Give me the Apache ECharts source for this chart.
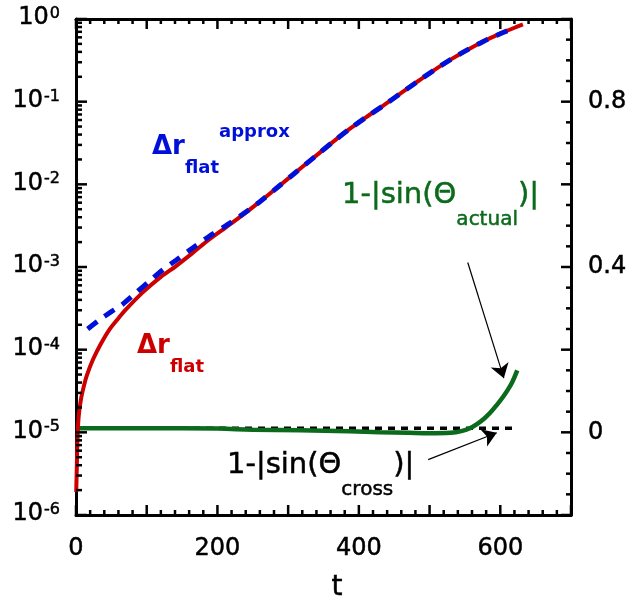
<!DOCTYPE html>
<html><head><meta charset="utf-8">
<script src="https://cdn.jsdelivr.net/npm/echarts@6/dist/echarts.min.js"></script>
<style>html,body{margin:0;padding:0;background:#fff}#c{width:631px;height:608px}</style>
</head><body><div id="c"></div>
<script>
// ---- data ----
const tRed = [0.3,1.2,2,3,4.5,7,10,15,24,35,47,60,71,94,120,141,165,188,212,236,260,283,310,340,363,387,410,435,458,482,505,529,552,576,600,623,632];
const drFlat = [1.9e-6,4.0e-6,7.9e-6,1.26e-5,1.78e-5,2.51e-5,3.31e-5,4.79e-5,7.59e-5,1.17e-4,1.74e-4,2.40e-4,3.09e-4,4.90e-4,7.59e-4,1.02e-3,1.48e-3,2.14e-3,3.02e-3,4.27e-3,6.17e-3,8.91e-3,1.38e-2,2.24e-2,3.24e-2,4.68e-2,6.46e-2,9.02e-2,0.124,0.173,0.236,0.320,0.417,0.535,0.664,0.803,0.861];
const tBlue = [16.5,33,50,66,85,104,122,141,165,188,212,236,260,283,310,340,363,387,410,435,458,482,505,529,552,576,600,616];
const drApprox = [1.78e-4,2.29e-4,2.88e-4,3.55e-4,4.90e-4,6.76e-4,9.12e-4,1.20e-3,1.70e-3,2.34e-3,3.16e-3,4.37e-3,6.17e-3,8.91e-3,1.38e-2,2.24e-2,3.24e-2,4.68e-2,6.46e-2,9.02e-2,0.124,0.173,0.236,0.320,0.417,0.535,0.664,0.750];
const tGreen = [0,100,200,250,317,387,430,470,500,530,545,557,567,577,586,595,604,611,617,624];
const sinActual = [0.010,0.010,0.009,0.0065,0.005,0.0025,0.0005,-0.001,-0.002,-0.001,0.003,0.010,0.020,0.033,0.048,0.066,0.086,0.104,0.122,0.150];
const tCross = [0,625];
const sinCross = [0.010,0.010];
const xTickLabels = [0,200,400,600];
const rightTickLabels = [0,0.4,0.8];
// axis tick structure
const xRange = [0,700], xMajorStep = 100, xMinorStep = 20;
const rRange = [-0.2,1.0], rMajorStep = 0.2, rMinorStep = 0.05;
const logDecades = [1e-6,1e-5,1e-4,1e-3,1e-2,1e-1,1];
const logMinorMultipliers = [2,3,4,5,6,7,8,9];
// arrows (data coordinates on t / right axis)
const arrowActual = [[554,0.411],[605,0.131]];
const arrowCross = [[498,-0.066],[595,-0.001]];

const FONT = '"DejaVu Sans", sans-serif';
const RED = '#cc0000', BLUE = '#0010d8', GREEN = '#0b6a1c';
const TB = 0.5; // slight text thickening

const zip = (a,b)=>a.map((v,i)=>[v,b[i]]);
const near = (a,b)=>Math.abs(a-b)<1e-7;

const xTicks = [];
for (let i=0; xRange[0]+i*xMinorStep<=xRange[1]+1e-9; i++){ const v=xRange[0]+i*xMinorStep; xTicks.push([v, near(v/xMajorStep, Math.round(v/xMajorStep))?1:0]); }
const rTicks = [];
for (let i=0; rRange[0]+i*rMinorStep<=rRange[1]+1e-9; i++){ const v=+(rRange[0]+i*rMinorStep).toFixed(4); rTicks.push([xRange[1], v, near(v/rMajorStep, Math.round(v/rMajorStep))?1:0]); }
const lTicks = [];
logDecades.forEach((d,k)=>{ lTicks.push([xRange[0], d, 1]); if(k<logDecades.length-1) logMinorMultipliers.forEach(m=>lTicks.push([xRange[0], d*m, 0])); });

const axisLineStyle = {show:true, onZero:false, lineStyle:{color:'#000', width:3}};
const noTick = {show:false};
const TW = 2.5;
const seg = (x1,y1,x2,y2)=>({type:'line', shape:{x1,y1,x2,y2}, style:{stroke:'#000', lineWidth:TW}});

const chart = echarts.init(document.getElementById('c'));
chart.setOption({
  animation:false,
  backgroundColor:'#fff',
  grid:{left:76, top:19, right:60, bottom:93, containLabel:false},
  xAxis:[
    {type:'value', min:xRange[0], max:xRange[1], interval:xMajorStep, position:'bottom',
     axisLine:axisLineStyle, axisTick:noTick, splitLine:{show:false},
     axisLabel:{fontSize:24, color:'#000', fontFamily:FONT, margin:22, textBorderColor:'#000', textBorderWidth:TB,
       formatter:v=>xTickLabels.includes(v)?String(v):''},
     name:'t', nameLocation:'middle', nameGap:59,
     nameTextStyle:{fontSize:28, color:'#000', fontFamily:FONT, padding:[0,0,0,27], textBorderColor:'#000', textBorderWidth:TB}},
    {type:'value', min:xRange[0], max:xRange[1], interval:xMajorStep, position:'top',
     axisLine:axisLineStyle, axisTick:noTick, splitLine:{show:false}, axisLabel:{show:false}}
  ],
  yAxis:[
    {type:'log', logBase:10, min:1e-6, max:1, splitNumber:6, position:'left',
     axisLine:axisLineStyle, axisTick:noTick, splitLine:{show:false},
     axisLabel:{margin:16, color:'#000', fontFamily:FONT,
       formatter:v=>'{b|10}{s|'+Math.round(Math.log10(v))+'}',
       rich:{b:{fontSize:24, lineHeight:26, color:'#000', fontFamily:FONT, verticalAlign:'top', textBorderColor:'#000', textBorderWidth:TB},
             s:{fontSize:16, lineHeight:16, color:'#000', fontFamily:FONT, verticalAlign:'top', padding:[0,0,0,1], textBorderColor:'#000', textBorderWidth:TB}}}},
    {type:'value', min:rRange[0], max:rRange[1], interval:rMajorStep, position:'right',
     axisLine:axisLineStyle, axisTick:noTick, splitLine:{show:false},
     axisLabel:{fontSize:24, color:'#000', fontFamily:FONT, margin:17, textBorderColor:'#000', textBorderWidth:TB,
       formatter:v=>{const h=rightTickLabels.find(r=>near(r,v)); return h===undefined?'':String(h);}}}
  ],
  graphic:[
    {type:'text', x:152, y:147, silent:true, style:{text:'{a|Δr}{sub|flat}{sup|approx}', fill:BLUE, align:'left', verticalAlign:'middle',
      rich:{a:{fontSize:26, fontWeight:'bold', lineHeight:60, fill:BLUE, fontFamily:FONT},
            sub:{fontSize:18, fontWeight:'bold', lineHeight:20, verticalAlign:'bottom', fill:BLUE, fontFamily:FONT},
            sup:{fontSize:18, fontWeight:'bold', lineHeight:20, verticalAlign:'top', padding:[6,0,0,0], fill:BLUE, fontFamily:FONT}}}},
    {type:'text', x:137, y:346, silent:true, style:{text:'{a|Δr}{sub|flat}', fill:RED, align:'left', verticalAlign:'middle',
      rich:{a:{fontSize:26, fontWeight:'bold', lineHeight:60, fill:RED, fontFamily:FONT},
            sub:{fontSize:18, fontWeight:'bold', lineHeight:22, verticalAlign:'bottom', fill:RED, fontFamily:FONT}}}},
    {type:'text', x:342, y:195, silent:true, style:{text:'{m|1-|sin(Θ}{sub|actual}{m|)|}', fill:GREEN, align:'left', verticalAlign:'middle',
      rich:{m:{fontSize:29, lineHeight:70, fill:GREEN, fontFamily:FONT, stroke:GREEN, lineWidth:TB},
            sub:{fontSize:20, lineHeight:26, verticalAlign:'bottom', fill:GREEN, fontFamily:FONT, stroke:GREEN, lineWidth:TB}}}},
    {type:'text', x:227, y:465, silent:true, style:{text:'{m|1-|sin(Θ}{sub|cross}{m|)|}', fill:'#000', align:'left', verticalAlign:'middle',
      rich:{m:{fontSize:29, lineHeight:70, fill:'#000', fontFamily:FONT, stroke:'#000', lineWidth:TB},
            sub:{fontSize:20, lineHeight:24, verticalAlign:'bottom', fill:'#000', fontFamily:FONT, stroke:'#000', lineWidth:TB}}}}
  ],
  series:[
    {type:'custom', xAxisIndex:0, yAxisIndex:0, silent:true, clip:false, z:5, data:xTicks,
     renderItem:(params, api)=>{const v=api.value(0), len=api.value(1)?10:5;
       const b=api.coord([v,1e-6]), t=api.coord([v,1]);
       return {type:'group', children:[seg(b[0],b[1],b[0],b[1]-len), seg(t[0],t[1],t[0],t[1]+len)]};}},
    {type:'custom', xAxisIndex:0, yAxisIndex:0, silent:true, clip:false, z:5, data:lTicks,
     renderItem:(params, api)=>{const p=api.coord([api.value(0), api.value(1)]), len=api.value(2)?11:6;
       return seg(p[0],p[1],p[0]+len,p[1]);}},
    {type:'custom', xAxisIndex:0, yAxisIndex:1, silent:true, clip:false, z:5, data:rTicks,
     renderItem:(params, api)=>{const p=api.coord([api.value(0), api.value(1)]), len=api.value(2)?10:5;
       return seg(p[0],p[1],p[0]-len,p[1]);}},
    {name:'cross', type:'line', xAxisIndex:0, yAxisIndex:1, data:zip(tCross,sinCross), showSymbol:false, silent:true, z:2,
     lineStyle:{color:'#000', width:3.5, type:[7,6]},
     markLine:{silent:true, symbol:['none','arrow'], symbolSize:14, label:{show:false},
       lineStyle:{color:'#000', width:1.2, type:'solid'},
       data:[[{coord:arrowActual[0]},{coord:arrowActual[1]}],[{coord:arrowCross[0]},{coord:arrowCross[1]}]]}},
    {name:'actual', type:'line', xAxisIndex:0, yAxisIndex:1, data:zip(tGreen,sinActual), showSymbol:false, silent:true, z:3, smooth:0.4,
     lineStyle:{color:GREEN, width:4.5}},
    {name:'flat', type:'line', xAxisIndex:0, yAxisIndex:0, data:zip(tRed,drFlat), showSymbol:false, silent:true, z:3, smooth:0.3,
     lineStyle:{color:RED, width:4}},
    {name:'approx', type:'line', xAxisIndex:0, yAxisIndex:0, data:zip(tBlue,drApprox), showSymbol:false, silent:true, z:4, smooth:0.3,
     lineStyle:{color:BLUE, width:5, type:[12,9]}}
  ]
});
</script></body></html>
